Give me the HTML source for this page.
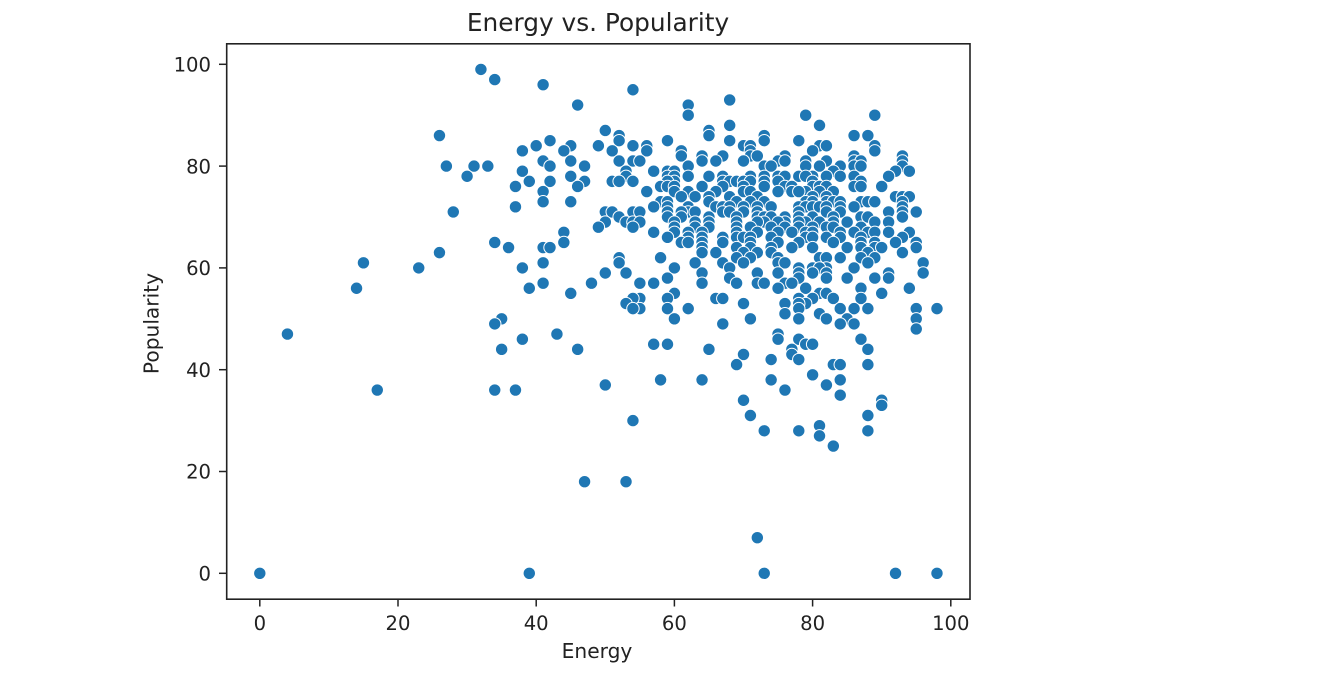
<!DOCTYPE html>
<html lang="en">
<head>
<meta charset="utf-8">
<title>Energy vs. Popularity</title>
<style>
html,body{margin:0;padding:0;background:#fff;width:1320px;height:680px;overflow:hidden}
svg{display:block;filter:blur(0.35px)}
text{font-family:"DejaVu Sans","Liberation Sans",sans-serif;fill:#222}
</style>
</head>
<body>
<svg id="chart" width="1320" height="680" viewBox="0 0 1320 680" xmlns="http://www.w3.org/2000/svg">
  <rect x="226.7" y="43.8" width="743.3" height="555.4" fill="#fff"/>
  <g id="points"></g>
  <g id="ticks"></g>
  <rect x="226.7" y="43.8" width="743.3" height="555.4" fill="none" stroke="#222" stroke-width="1.6"/>
  <text x="598" y="31" font-size="24.8" text-anchor="middle">Energy vs. Popularity</text>
  <text x="597" y="658" font-size="20.2" text-anchor="middle">Energy</text>
  <text x="158.3" y="323.5" font-size="20.2" text-anchor="middle" transform="rotate(-90 158.3 323.5)">Popularity</text>
</svg>
<script>
const xTickLabels = [0, 20, 40, 60, 80, 100];
const yTickLabels = [0, 20, 40, 60, 80, 100];
const popularityLevels = [99,97,96,95,93,92,90,88,87,86,85,84,83,82,81,80,79,78,77,76,75,74,73,72,71,70,69,68,67,66,65,64,63,62,61,60,59,58,57,56,55,54,53,52,51,50,49,48,47,46,45,44,43,42,41,39,38,37,36,35,34,33,31,30,29,28,27,25,18,7,0];
const energiesAtLevel = [
[32],[34],[41],[54],[68],[46,62],[62,79,89],[68,81],[50,65],
[26,52,65,73,86,88],[42,52,59,68,73,78],[40,45,49,54,56,70,71,81,82,89],
[38,44,51,56,61,71,80,89],[61,64,67,71,72,76,86,93],
[41,45,52,54,55,64,66,70,75,76,79,82,86,87,93],
[27,31,33,42,47,62,73,74,79,81,84,86,87,93],
[38,53,57,59,60,83,92,94],
[30,45,53,62,65,67,71,73,75,76,78,80,82,84,86,91,79,59,60],
[39,42,47,51,52,54,67,68,69,70,71,73,75,80,87,60,59],
[37,46,58,59,60,64,67,73,80,81,82,86,87,90,76,77,70],
[41,56,60,62,66,70,71,75,77,79,81,78,83],
[61,63,65,92,93,94,68,72,80,82],
[41,45,58,59,65,69,71,73,82,83,87,88,89,93,79,80,84],
[37,57,59,62,66,67,72,74,78,79,80,81,84,86,93,68,70,82],
[28,50,51,54,55,59,62,63,61,67,68,70,82,84,91,93,95,78,72],
[52,59,61,72,76,78,87,88,93,65,73,74,80,83,69],
[50,53,54,55,63,65,69,79,81,85,89,91,60,73,76,83,78,72,75],
[49,54,63,65,60,71,76,80,82,74,78,87,69,83],
[44,57,60,62,64,69,75,77,79,80,86,88,91,94,72,84,89],
[59,62,64,67,69,70,74,79,80,84,93,87,82,71],
[34,44,61,62,64,67,71,78,83,92,95,87,89,75],
[36,41,42,64,69,74,80,87,89,90,95,71,77,85],
[26,64,66,72,74,93,70,88],
[52,58,69,75,81,82,84,87,89,71],
[15,41,52,63,70,75,76,88,96,67],
[23,38,60,68,78,80,82,81,86],
[50,53,64,72,75,80,82,96,91,78],
[59,68,78,82,85,89,91],
[41,48,55,57,64,69,72,73,76,77],
[14,39,75,79,87,94],
[45,60,81,82,90],
[55,59,66,67,54,78,80,83,87],
[53,70,76,79,78],
[55,59,62,78,84,86,88,95,98,54],
[76,81],
[35,60,71,78,82,85,95],
[34,67,84,86],
[95],[4,43,75],[38,75,78,87],[57,59,79,80],[35,46,65,77,88],[70,77],[74,78],
[69,83,84,88],[80],[58,64,74,84],[50,82],[17,34,37,76],[84],[70,90],[90],
[71,88],[54],[81],[73,78,88],[81],[83],[47,53],[72],[0,39,73,92,98]
];

const NS = 'http://www.w3.org/2000/svg';
function xScale(v) { return 259.8 + 6.91 * v; }
function yScale(v) { return 573.3 - 5.09 * v; }

const pointsGroup = document.getElementById('points');
popularityLevels.forEach(function (level, i) {
  energiesAtLevel[i].forEach(function (energy) {
    const c = document.createElementNS(NS, 'circle');
    
    
    c.setAttribute('cx', xScale(energy));
    c.setAttribute('cy', yScale(level));
    c.setAttribute('r', 6.2);
    c.setAttribute('fill', '#1f77b4');
    c.setAttribute('stroke', '#fff');
    c.setAttribute('stroke-width', 1);
    pointsGroup.appendChild(c);
  });
});

const ticksGroup = document.getElementById('ticks');
xTickLabels.forEach(function (t) {
  const line = document.createElementNS(NS, 'line');
  
  
  line.setAttribute('x1', xScale(t));
  line.setAttribute('x2', xScale(t));
  line.setAttribute('y1', 599);
  line.setAttribute('y2', 606.5);
  line.setAttribute('stroke', '#222');
  line.setAttribute('stroke-width', 1.5);
  ticksGroup.appendChild(line);
  const label = document.createElementNS(NS, 'text');
  
  
  label.setAttribute('x', xScale(t));
  label.setAttribute('y', 630);
  label.setAttribute('font-size', '19.6');
  label.setAttribute('text-anchor', 'middle');
  label.textContent = t;
  ticksGroup.appendChild(label);
});
yTickLabels.forEach(function (t) {
  const line = document.createElementNS(NS, 'line');
  
  
  line.setAttribute('x1', 219);
  line.setAttribute('x2', 226.7);
  line.setAttribute('y1', yScale(t));
  line.setAttribute('y2', yScale(t));
  line.setAttribute('stroke', '#222');
  line.setAttribute('stroke-width', 1.5);
  ticksGroup.appendChild(line);
  const label = document.createElementNS(NS, 'text');
  
  
  label.setAttribute('x', 211);
  label.setAttribute('y', yScale(t) + 7.2);
  label.setAttribute('font-size', '19.6');
  label.setAttribute('text-anchor', 'end');
  label.textContent = t;
  ticksGroup.appendChild(label);
});
</script>
</body>
</html>
